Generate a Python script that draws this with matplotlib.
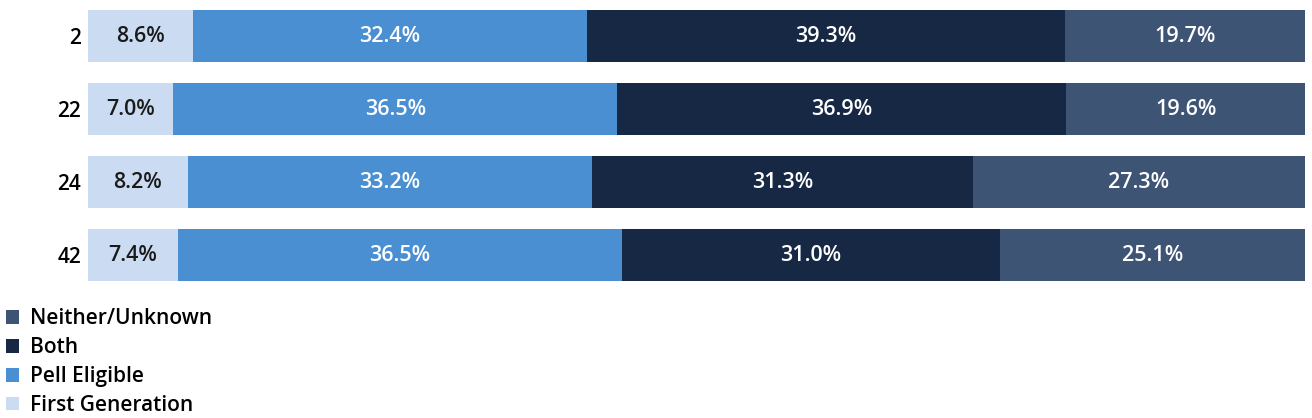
import matplotlib
matplotlib.use("Agg")
import matplotlib.pyplot as plt
import numpy as np

plt.rcParams['font.family'] = ['Open Sans', 'DejaVu Sans']
plt.rcParams['font.weight'] = 'semibold'

rows = ['2', '22', '24', '42']
first_gen = [8.6, 7.0, 8.2, 7.4]
pell = [32.4, 36.5, 33.2, 36.5]
both = [39.3, 36.9, 31.3, 31.0]
neither = [19.7, 19.6, 27.3, 25.1]

series = [
    ('First Generation', first_gen, '#cbdcf2', '#1a1a1a'),
    ('Pell Eligible', pell, '#4a8fd2', 'white'),
    ('Both', both, '#172844', 'white'),
    ('Neither/Unknown', neither, '#3d5475', 'white'),
]

fig = plt.figure(figsize=(13.12, 4.18), dpi=100)
ax = fig.add_axes([88/1312, 1 - 291.5/418, (1305 - 88)/1312, 291.5/418])

y = np.arange(len(rows))
left = np.zeros(len(rows))
handles = []
for name, vals, col, tcol in series:
    vals = np.array(vals)
    bars = ax.barh(y, vals, left=left, height=0.712, color=col, label=name)
    handles.append(bars)
    for yi, l, v in zip(y, left, vals):
        ax.text(l + v / 2, yi, f'{v:.1f}%', ha='center', va='center',
                color=tcol, fontsize=15.5)
    left += vals

ax.set_xlim(0, 100)
ax.set_ylim(len(rows) - 0.5, -0.5)
ax.set_yticks(y)
ax.set_yticklabels(rows, fontsize=15)
ax.set_xticks([])
ax.tick_params(axis='y', length=0, pad=5)
for s in ax.spines.values():
    s.set_visible(False)

fig.legend(handles[::-1], [s[0] for s in series][::-1],
           loc='upper left', bbox_to_anchor=(0, 1 - 302/418),
           frameon=False, fontsize=15, handlelength=0.62, handleheight=0.62,
           handletextpad=0.5, labelspacing=0.38, borderaxespad=0,
           borderpad=0.3)

fig.savefig('out.png', dpi=100)
